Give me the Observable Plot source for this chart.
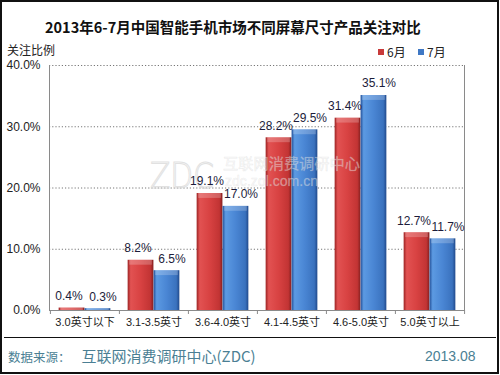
<!DOCTYPE html>
<html>
<head>
<meta charset="utf-8">
<script src="https://cdn.jsdelivr.net/npm/d3@7"></script>
<script src="https://cdn.jsdelivr.net/npm/@observablehq/plot@0.6"></script>
<style>
  html, body { margin: 0; padding: 0; background: #fff; }
  #wrap { position: relative; width: 500px; height: 375px; overflow: hidden; background: #fff;
          font-family: "Liberation Sans", "Noto Sans CJK SC", sans-serif; }
  #chart { position: absolute; left: 0; top: 0; }
  .abs { position: absolute; white-space: nowrap; line-height: 1; }
  #border { position: absolute; left: 0; top: 0; width: 499px; height: 374px; box-sizing: border-box;
            border: 2px solid #111; pointer-events: none; }
  #title { left: 45px; top: 20px; font-size: 14.5px; font-weight: bold; color: #111;
           font-family: "Noto Sans CJK SC", sans-serif; }
  #ylabel { left: 7px; top: 44px; font-size: 12px; color: #222; font-family: "Noto Sans CJK SC", sans-serif; }
  .leg { top: 46px; font-size: 12px; color: #222; font-family: "Noto Sans CJK SC", sans-serif; display: flex; align-items: center; }
  .sw { display: inline-block; width: 6px; height: 6px; margin-right: 3px; }
  #rule { position: absolute; left: 4px; top: 337px; width: 492px; height: 0; border-top: 1.5px solid #111; }
  #source { left: 8px; top: 347px; color: #4b7f94; font-family: "Noto Sans CJK SC", sans-serif; }
  #date { left: 425px; top: 349px; color: #4b7f94; font-size: 14px; }
</style>
</head>
<body>
<div id="wrap">
  <div id="chart"></div>
  <div id="title" class="abs"></div>
  <div id="ylabel" class="abs"></div>
  <div id="legend"></div>
  <div id="rule"></div>
  <div id="source" class="abs"></div>
  <div id="date" class="abs"></div>
  <div id="border"></div>
</div>
<script>
// ---- data ----
const titleText = "2013年6-7月中国智能手机市场不同屏幕尺寸产品关注对比";
const yAxisLabel = "关注比例";
const categories = ["3.0英寸以下", "3.1-3.5英寸", "3.6-4.0英寸", "4.1-4.5英寸", "4.6-5.0英寸", "5.0英寸以上"];
const seriesNames = ["6月", "7月"];
const june = [0.4, 8.2, 19.1, 28.2, 31.4, 12.7];
const july = [0.3, 6.5, 17.0, 29.5, 35.1, 11.7];
const yTicks = [0, 10, 20, 30, 40];
const sourcePrefix = "数据来源：";
const sourceName = "互联网消费调研中心(ZDC)";
const dateText = "2013.08";

const juneData = categories.map((c, i) => ({cat: c, v: june[i]}));
const julyData = categories.map((c, i) => ({cat: c, v: july[i]}));

const W = 500, H = 375;
const mL = 49, mR = 36, mT = 65, mB = 65;
const step = (W - mL - mR) / categories.length;
const gap = step * 0.125;
const barW = (step - 2 * gap) / 2;
const fmt = d => d.toFixed(1) + "%";

const capTop = d => d.v;
const capBottom = d => Math.max(0, d.v - 0.8);

const chart = Plot.plot({
  width: W, height: H,
  marginLeft: mL, marginRight: mR, marginTop: mT, marginBottom: mB,
  style: {fontFamily: "'Liberation Sans', 'Noto Sans CJK SC', sans-serif", fontSize: "12px", color: "#222", background: "transparent", overflow: "visible"},
  x: {type: "band", domain: categories, padding: 0, label: null},
  y: {domain: [0, 40], label: null},
  marks: [
    Plot.ruleY(yTicks.filter(t => t > 0), {stroke: "#777", strokeDasharray: "1.2,2", strokeWidth: 1}),
    Plot.frame({anchor: "left", stroke: "#8a8a8a"}),
    Plot.frame({anchor: "right", stroke: "#8a8a8a"}),
    Plot.ruleY([0], {stroke: "#8a8a8a"}),
    Plot.ruleX(categories, {x: d => d, y1: 0, y2: 0, insetBottom: -4, dx: -step / 2, stroke: "#8a8a8a"}),
    Plot.ruleX(categories.slice(-1), {x: d => d, y1: 0, y2: 0, insetBottom: -4, dx: step / 2, stroke: "#8a8a8a"}),
    Plot.barY(juneData, {x: "cat", y: "v", fill: "url(#gRed)", insetLeft: gap, insetRight: gap + barW}),
    Plot.barY(julyData, {x: "cat", y: "v", fill: "url(#gBlue)", insetLeft: gap + barW, insetRight: gap}),
    Plot.barY(juneData, {x: "cat", y1: capBottom, y2: capTop, fill: "#fff", fillOpacity: 0.22, insetLeft: gap + 1.5, insetRight: gap + barW + 1.5}),
    Plot.barY(julyData, {x: "cat", y1: capBottom, y2: capTop, fill: "#fff", fillOpacity: 0.22, insetLeft: gap + barW + 1.5, insetRight: gap + 1.5}),
    Plot.text(juneData, {x: "cat", y: "v", text: d => fmt(d.v), dx: -(step / 2 - gap - barW / 2) - 3, dy: -12, fill: "#1c1c3a", fontSize: 12}),
    Plot.text(julyData, {x: "cat", y: "v", text: d => fmt(d.v), dx: (step / 2 - gap - barW / 2) + 5, dy: -12, fill: "#1c1c3a", fontSize: 12}),
    Plot.axisY({ticks: yTicks, tickSize: 0, tickPadding: 9, tickFormat: fmt, fontSize: 12, fill: "#222", label: null}),
    Plot.axisX({tickSize: 0, tickPadding: 8, fontSize: 11, fill: "#222", label: null})
  ]
});
document.getElementById("chart").appendChild(chart);

// gradients for the bevelled bars
const svg = d3.select(chart.tagName.toLowerCase() === "svg" ? chart : chart.querySelector("svg"));
const defs = svg.insert("defs", ":first-child");
function grad(id, stops) {
  const g = defs.append("linearGradient").attr("id", id).attr("x1", "0").attr("x2", "1").attr("y1", "0").attr("y2", "0");
  stops.forEach(([o, c]) => g.append("stop").attr("offset", o).attr("stop-color", c));
}
grad("gRed", [[0, "#9c2424"], [0.12, "#e25252"], [0.5, "#d84242"], [0.88, "#c23434"], [1, "#862020"]]);
grad("gBlue", [[0, "#25529a"], [0.12, "#5c9ae2"], [0.5, "#4a86d4"], [0.88, "#3a72be"], [1, "#214a8c"]]);

// faint watermark (decoration, drawn underneath the labels)
const wm = svg.insert("g", "g[aria-label='text']").attr("pointer-events", "none").attr("text-anchor", "start");
wm.append("text").attr("x", 150).attr("y", 188).text("ZDC")
  .attr("font-family", "'DejaVu Sans', sans-serif").attr("font-size", 36).attr("font-weight", 200)
  .attr("textLength", 64).attr("lengthAdjust", "spacingAndGlyphs")
  .attr("fill", "none").attr("stroke", "#dadada").attr("stroke-width", 1.1).attr("opacity", 0.8);
wm.append("text").attr("x", 223).attr("y", 169).text("互联网消费调研中心")
  .attr("font-family", "'Noto Sans CJK SC', sans-serif").attr("font-size", 15)
  .attr("textLength", 137).attr("lengthAdjust", "spacingAndGlyphs")
  .attr("fill", "#fff").attr("fill-opacity", 0.4).attr("stroke", "#bbb").attr("stroke-opacity", 0.3).attr("stroke-width", 0.6);
wm.append("text").attr("x", 225).attr("y", 186).text("zdc.zol.com.cn")
  .attr("font-family", "'Liberation Sans', sans-serif").attr("font-size", 15)
  .attr("textLength", 93).attr("lengthAdjust", "spacingAndGlyphs")
  .attr("fill", "#fff").attr("fill-opacity", 0.4).attr("stroke", "#bbb").attr("stroke-opacity", 0.3).attr("stroke-width", 0.6);

// text outside the plot
document.getElementById("title").textContent = titleText;
document.getElementById("ylabel").textContent = yAxisLabel;
const legColors = ["#c83a3a", "#3f78c4"];
const legX = [378, 418];
const legend = document.getElementById("legend");
seriesNames.forEach((s, i) => {
  const d = document.createElement("div");
  d.className = "abs leg";
  d.style.left = legX[i] + "px";
  d.innerHTML = `<span class="sw" style="background:${legColors[i]}"></span><span>${s}</span>`;
  legend.appendChild(d);
});
document.getElementById("source").innerHTML =
  `<span style="font-size:12.5px">${sourcePrefix}</span><span style="margin-left:11px;font-size:15px">${sourceName}</span>`;
document.getElementById("date").textContent = dateText;
</script>
</body>
</html>
